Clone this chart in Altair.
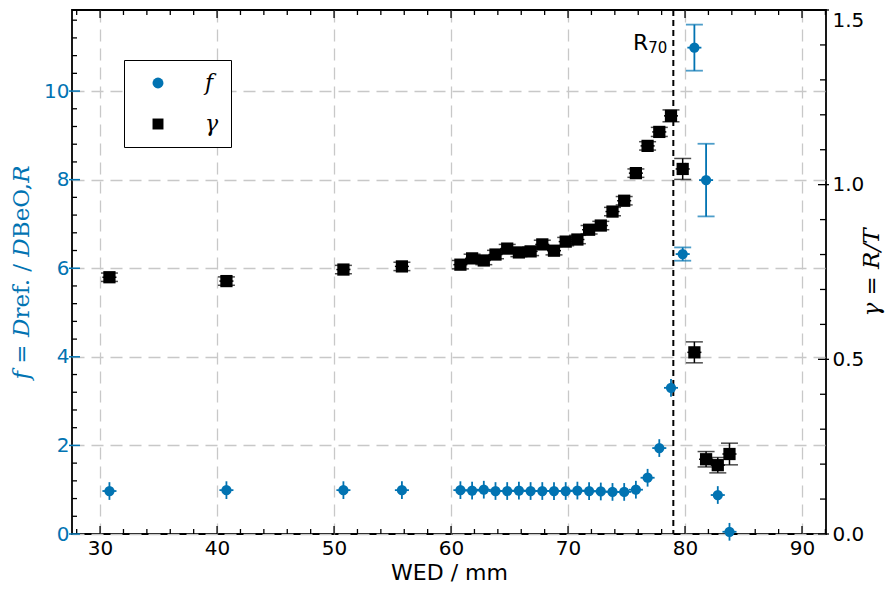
import altair as alt
import pandas as pd

# ---------------- data ----------------
wed = [30.8, 40.8, 50.8, 55.8, 60.8, 61.8, 62.8, 63.8, 64.8, 65.8, 66.8, 67.8,
       68.8, 69.8, 70.8, 71.8, 72.8, 73.8, 74.8, 75.8, 76.8, 77.8, 78.8, 79.8,
       80.8, 81.8, 82.8, 83.8]
f_vals = [0.97, 0.99, 0.99, 0.99, 0.99, 0.98, 1.00, 0.97, 0.97, 0.98, 0.97, 0.97,
          0.97, 0.97, 0.98, 0.97, 0.96, 0.95, 0.95, 1.00, 1.27, 1.94, 3.30, 6.32,
          10.98, 7.99, 0.88, 0.05]
f_err = [0.2] * 23 + [0.15, 0.52, 0.82, 0.2, 0.2]
g_vals = [0.735, 0.724, 0.757, 0.766, 0.771, 0.789, 0.783, 0.800, 0.817, 0.806,
          0.809, 0.829, 0.811, 0.837, 0.843, 0.871, 0.883, 0.923, 0.954, 1.033,
          1.111, 1.151, 1.197, 1.045, 0.520, 0.214, 0.197, 0.229]
g_err = [0.012] * 21 + [0.013, 0.017, 0.030, 0.030, 0.022, 0.022, 0.031]
wed_err = [0.6] * 28

r70 = [79.0]

x_major = [30, 40, 50, 60, 70, 80, 90]
x_minor = [28, 32, 34, 36, 38, 42, 44, 46, 48, 52, 54, 56, 58, 62, 64, 66, 68,
           72, 74, 76, 78, 82, 84, 86, 88, 92]
f_major = [0, 2, 4, 6, 8, 10]
f_minor = [round(0.4 * i, 1) for i in range(1, 30) if i % 5 != 0]
g_major = [0.0, 0.5, 1.0, 1.5]
g_minor = [round(0.1 * i, 1) for i in range(1, 15) if i % 5 != 0]

BLUE = "#0173B2"
W, H = 754, 524

df = pd.DataFrame({"wed": wed, "f": f_vals, "fe": f_err, "g": g_vals,
                   "ge": g_err, "xe": wed_err})

base = alt.Chart(df).transform_calculate(
    xlo="datum.wed - datum.xe", xhi="datum.wed + datum.xe",
    flo="datum.f - datum.fe", fhi="datum.f + datum.fe",
    glo="datum.g - datum.ge", ghi="datum.g + datum.ge",
)

xscale = alt.Scale(domain=[27.6, 92.05], nice=False, zero=False)
xaxis = alt.Axis(values=x_major, grid=True, gridDash=[12, 7], gridColor="#c8c8c8",
                 gridWidth=1.3, ticks=False, domain=False, labelFontSize=20,
                 labelColor="black", labelFont="DejaVu Sans", labelPadding=4,
                 titleFont="DejaVu Sans", titleFontSize=22, titleFontWeight="normal",
                 titleColor="black", titleX=W / 2, titleY=45, titleBaseline="alphabetic",
                 titleAlign="center")


def X(field):
    return alt.X(field, type="quantitative", scale=xscale, axis=xaxis, title="WED / mm")


fscale = alt.Scale(domain=[0, 11.83], nice=False, zero=False)
faxis = alt.Axis(values=f_major, grid=True, gridDash=[12, 7], gridColor="#c8c8c8",
                 gridWidth=1.3, ticks=False, domain=False, labelFontSize=20,
                 labelColor=BLUE, labelFont="DejaVu Sans", labelPadding=3,
                 titleFont="DejaVu Serif", titleFontSize=23, titleFontWeight="normal",
                 titleColor=BLUE, titleAngle=270, titleX=-51, titleY=H / 2,
                 titleBaseline="middle", titleAlign="center")
FTITLE = "𝑓 = 𝐷ref. / 𝐷BeO,𝑅"


def YF(field):
    return alt.Y(field, type="quantitative", scale=fscale, axis=faxis, title=FTITLE)


gscale = alt.Scale(domain=[0, 1.5], nice=False, zero=False)
gaxis = alt.Axis(orient="right", values=g_major, format=".1f", grid=False, ticks=False,
                 domain=False, labelFontSize=20, labelColor="black",
                 labelFont="DejaVu Sans", labelPadding=6,
                 labelBaseline={"condition": {"test": "datum.value >= 1.5", "value": "top"},
                                "value": "middle"},
                 titleFont="DejaVu Serif",
                 titleFontStyle="italic", titleFontSize=23, titleFontWeight="normal",
                 titleColor="black", titleAngle=270, titleX=45, titleY=H / 2,
                 titleBaseline="middle", titleAlign="center")
GTITLE = "γ = R/T"


def YG(field):
    return alt.Y(field, type="quantitative", scale=gscale, axis=gaxis, title=GTITLE)


series_color = alt.Color("s:N", scale=alt.Scale(domain=["f", "γ"], range=[BLUE, "black"]),
                         legend=alt.Legend(title=None, orient="none", legendX=52, legendY=50,
                                           strokeColor="black", fillColor="white",
                                           padding=12, cornerRadius=0,
                                           labelFont="DejaVu Serif", labelFontStyle="italic",
                                           labelFontSize=22, symbolSize=120,
                                           symbolOffset=11, labelOffset=36, rowPadding=19,
                                           symbolStrokeWidth=0))
series_shape = alt.Shape("s:N", scale=alt.Scale(domain=["f", "γ"], range=["circle", "square"]),
                         legend=alt.Legend(title=None, orient="none", legendX=52, legendY=50))

# ---------------- f layer (left axis) ----------------
f_h = base.mark_rule(color=BLUE, strokeWidth=1.8).encode(x=X("xlo"), x2="xhi", y=YF("f"))
f_v = base.mark_rule(color=BLUE, strokeWidth=1.8).encode(x=X("wed"), y=YF("flo"), y2="fhi")
capdata = base.transform_filter("datum.fe != 0.2")
f_cap_lo = capdata.mark_tick(color=BLUE, orient="horizontal", size=17, thickness=1.8).encode(
    x=X("wed"), y=YF("flo"))
f_cap_hi = capdata.mark_tick(color=BLUE, orient="horizontal", size=17, thickness=1.8).encode(
    x=X("wed"), y=YF("fhi"))
f_pts = base.transform_calculate(s='"f"').mark_point(filled=True, size=105, opacity=1).encode(
    x=X("wed"), y=YF("f"), color=series_color, shape=series_shape)

tick_x_major = alt.Chart(pd.DataFrame({"t": x_major}))
tick_x_minor = alt.Chart(pd.DataFrame({"t": x_minor}))
tick_f_major = alt.Chart(pd.DataFrame({"t": f_major}))
tick_f_minor = alt.Chart(pd.DataFrame({"t": f_minor}))

tk = dict(color="black", strokeWidth=1.3)
ticks_f = [
    tick_x_major.mark_rule(**tk).encode(x=X("t"), y=alt.value(H), y2=alt.value(H - 8)),
    tick_x_major.mark_rule(**tk).encode(x=X("t"), y=alt.value(0), y2=alt.value(8)),
    tick_x_minor.mark_rule(**tk).encode(x=X("t"), y=alt.value(H), y2=alt.value(H - 5)),
    tick_x_minor.mark_rule(**tk).encode(x=X("t"), y=alt.value(0), y2=alt.value(5)),
    tick_f_major.mark_rule(color=BLUE, strokeWidth=1.5).encode(
        y=YF("t"), x=alt.value(-3), x2=alt.value(8)),
    tick_f_minor.mark_rule(**tk).encode(y=YF("t"), x=alt.value(0), x2=alt.value(5)),
]

rdf = alt.Chart(pd.DataFrame({"r70": r70}))
vline = rdf.mark_rule(color="black", strokeDash=[6, 4], strokeWidth=2).encode(x=X("r70"))
vtext_r = rdf.mark_text(align="right", baseline="middle", dx=-25, fontSize=22,
                        font="DejaVu Sans", color="black").encode(
    x=X("r70"), y=alt.value(33), text=alt.value("R"))
vtext_sub = rdf.mark_text(align="right", baseline="middle", dx=-6, fontSize=15,
                          font="DejaVu Sans", color="black").encode(
    x=X("r70"), y=alt.value(38), text=alt.value("70"))

f_layer = alt.layer(*ticks_f, vline, vtext_r, vtext_sub, f_h, f_v, f_cap_lo, f_cap_hi, f_pts)

# ---------------- gamma layer (right axis) ----------------
g_h = base.mark_rule(color="black", strokeWidth=1.5).encode(x=X("xlo"), x2="xhi", y=YG("g"))
g_v = base.mark_rule(color="black", strokeWidth=1.5).encode(x=X("wed"), y=YG("glo"), y2="ghi")
g_cap_lo = base.mark_tick(color="black", orient="horizontal", size=17, thickness=1.5).encode(
    x=X("wed"), y=YG("glo"))
g_cap_hi = base.mark_tick(color="black", orient="horizontal", size=17, thickness=1.5).encode(
    x=X("wed"), y=YG("ghi"))
g_pts = base.transform_calculate(s='"γ"').mark_point(filled=True, size=150, opacity=1).encode(
    x=X("wed"), y=YG("g"), color=series_color, shape=series_shape)

tick_g_major = alt.Chart(pd.DataFrame({"t": g_major}))
tick_g_minor = alt.Chart(pd.DataFrame({"t": g_minor}))
ticks_g = [
    tick_g_major.mark_rule(**tk).encode(y=YG("t"), x=alt.value(W - 8), x2=alt.value(W + 3)),
    tick_g_minor.mark_rule(**tk).encode(y=YG("t"), x=alt.value(W - 6), x2=alt.value(W)),
]

g_layer = alt.layer(*ticks_g, g_h, g_v, g_cap_lo, g_cap_hi, g_pts)

chart = alt.layer(f_layer, g_layer).resolve_scale(y="independent").properties(
    width=W, height=H,
    autosize=alt.AutoSizeParams(type="none"),
    padding={"left": 64, "top": 2, "right": 59, "bottom": 50},
).configure_view(stroke="black", strokeWidth=1.8)

chart.save("out.html", embed_options={"renderer": "svg", "actions": False})
